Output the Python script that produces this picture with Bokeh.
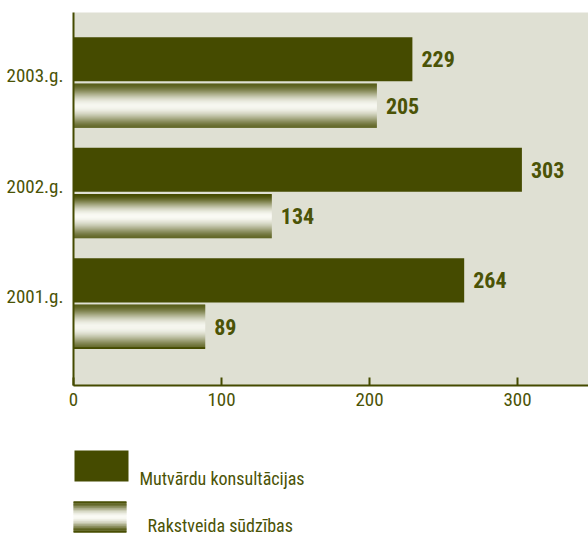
import numpy as np
from bokeh.plotting import figure
from bokeh.models import Range1d, FixedTicker
from bokeh.layouts import column
from bokeh.core.properties import value
from bokeh.embed import file_html
from bokeh.resources import INLINE

# ---- data ----
years = ["2001.g.", "2002.g.", "2003.g."]
mutvardu = [264, 303, 229]          # Mutvārdu konsultācijas
rakstveida = [89, 134, 205]         # Rakstveida sūdzības
series_names = ["Mutvārdu konsultācijas", "Rakstveida sūdzības"]
x_ticks = [0, 100, 200, 300]

# ---- style ----
DARK = "#454b00"
TEXT = "#4b5306"
BG = "#dfe0d3"
FONT = "Roboto Condensed, DejaVu Sans Condensed, Roboto"
BAR_H = 0.40
OFF = 0.21
N = 44
LABEL_SHIFT = 0.06

W = 588
H1 = 425
H2 = 539 - H1

pos = np.arange(1, len(years) + 1)


def grad_colors(n):
    u = (np.arange(n) + 0.5) / n
    t = np.sin(np.pi * u) ** 1.6
    dark = np.array([69, 75, 0])
    light = np.array([250, 250, 244])
    out = []
    for ti in t:
        c = dark + (light - dark) * ti
        out.append("#%02x%02x%02x" % tuple(int(round(v)) for v in c))
    return out


GCOLS = grad_colors(N)

p = figure(width=W, height=H1,
           x_range=Range1d(0, 348), y_range=Range1d(0.258, 3.633),
           output_backend="svg", toolbar_location=None,
           min_border_left=73, min_border_right=0,
           min_border_top=12, min_border_bottom=H1 - 385)
p.background_fill_color = BG
p.border_fill_color = "white"
p.outline_line_color = None
p.grid.visible = False

# solid bars
p.hbar(y=pos + OFF, left=0, right=mutvardu, height=BAR_H,
       fill_color=DARK, line_color=None)

# gradient bars as thin stripes
sh = BAR_H / N
ys, rights, cs = [], [], []
for yp, v in zip(pos, rakstveida):
    base = yp - OFF - BAR_H / 2
    for k in range(N):
        ys.append(base + (k + 0.5) * sh)
        rights.append(v)
        cs.append(GCOLS[k])
p.hbar(y=ys, left=0, right=rights, height=sh * 1.15,
       fill_color=cs, line_color=None)

# value labels
for vals, off in ((mutvardu, OFF), (rakstveida, -OFF)):
    p.text(x=vals, y=pos + off, text=[str(v) for v in vals],
           x_offset=9, text_baseline="middle", text_align="left",
           text_font=value(FONT), text_font_style="bold",
           text_font_size="22px", text_color=TEXT)

# x axis
xa = p.xaxis[0]
xa.ticker = FixedTicker(ticks=x_ticks)
xa.axis_line_color = DARK
xa.axis_line_width = 2
xa.major_tick_in = 8
xa.major_tick_out = 0
xa.major_tick_line_color = DARK
xa.major_tick_line_width = 2
xa.minor_tick_line_color = None
xa.major_label_text_font = FONT
xa.major_label_text_font_size = "19px"
xa.major_label_text_color = TEXT
xa.major_label_standoff = 7

# y axis
ya = p.yaxis[0]
tick_pos = [round(float(v) + LABEL_SHIFT, 3) for v in pos]
ya.ticker = FixedTicker(ticks=tick_pos)
ya.major_label_overrides = {t: y for t, y in zip(tick_pos, years)}
ya.axis_line_color = DARK
ya.axis_line_width = 2
ya.major_tick_in = 0
ya.major_tick_out = 0
ya.major_tick_line_color = None
ya.minor_tick_line_color = None
ya.major_label_text_font = FONT
ya.major_label_text_font_size = "19px"
ya.major_label_text_color = TEXT
ya.major_label_standoff = 10

# ---- legend figure (frame aligned with main frame; page coordinates) ----
lg = figure(width=W, height=H2,
            x_range=Range1d(73, W), y_range=Range1d(539, H1),
            output_backend="svg", toolbar_location=None,
            x_axis_location=None, y_axis_location=None,
            min_border_left=73, min_border_right=0,
            min_border_top=0, min_border_bottom=0)
lg.outline_line_color = None
lg.grid.visible = False
lg.background_fill_color = "white"
lg.border_fill_color = "white"

# item 1: solid box
lg.quad(left=[74], right=[128], top=[450], bottom=[481],
        fill_color=DARK, line_color=None)
# item 2: gradient box
g_top, g_bot = 501, 532
gh = (g_bot - g_top) / N
lg.quad(left=[72] * N, right=[126] * N,
        top=[g_top + k * gh - 0.2 for k in range(N)],
        bottom=[g_top + (k + 1) * gh + 0.2 for k in range(N)],
        fill_color=GCOLS, line_color=None)

lg.text(x=[139, 147], y=[478, 525], text=series_names,
        text_baseline="alphabetic", text_align="left",
        text_font=value(FONT), text_font_size="18px", text_color=TEXT)

layout = column(p, lg, spacing=0)
open("out.html", "w").write(file_html(layout, INLINE))
